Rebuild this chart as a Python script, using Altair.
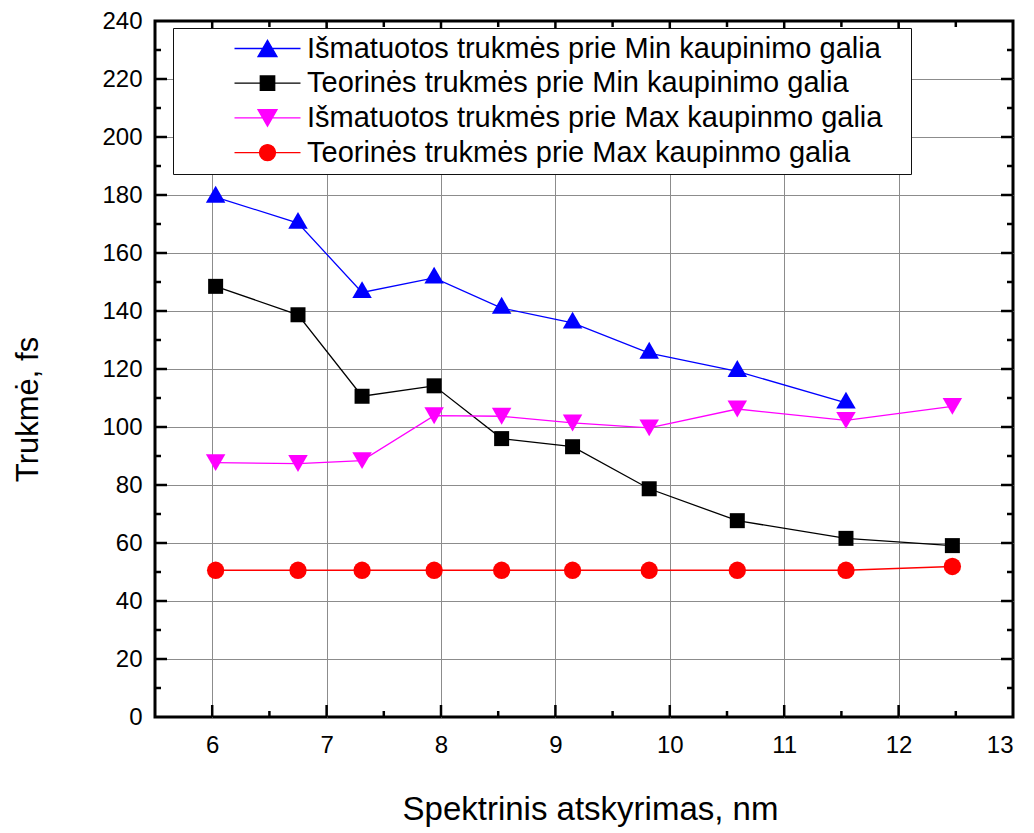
import altair as alt
import pandas as pd

# Spectral resolution (nm) at which the pulse durations were evaluated
spectral_width = [6.03, 6.75, 7.31, 7.94, 8.53, 9.15, 9.82, 10.59, 11.54, 12.47]

# Pulse durations, fs
measured_min = [179.3, 170.3, 146.4, 151.4, 141.0, 135.9, 125.5, 119.2, 108.3]
theory_min = [148.5, 138.7, 110.6, 114.2, 96.0, 93.2, 78.7, 67.7, 61.6, 59.1]
measured_max = [87.7, 87.4, 88.4, 103.9, 103.7, 101.4, 99.7, 106.2, 102.3, 107.1]
theory_max = [50.6, 50.6, 50.6, 50.6, 50.6, 50.6, 50.6, 50.6, 50.6, 51.9]

series_names = [
    "Išmatuotos trukmės prie Min kaupinimo galia",
    "Teorinės trukmės prie Min kaupinimo galia",
    "Išmatuotos trukmės prie Max kaupinmo galia",
    "Teorinės trukmės prie Max kaupinmo galia",
]
series_values = [measured_min, theory_min, measured_max, theory_max]
series_colors = ["#0000ff", "#000000", "#ff00ff", "#ff0000"]
# Equilateral triangles (up / down), square and circle markers
marker_shapes = ["triangle", "square", "M0,0.866L1,-0.866L-1,-0.866Z", "circle"]
marker_sizes = [380, 225, 380, 300]

# Legend keys: a short line with the marker in its middle (unit coordinates)
key_line = "M-3.3,0L3.3,0"
legend_keys = [
    key_line + "M0,-0.82L0.95,0.82L-0.95,0.82Z",
    key_line + "M-0.72,-0.72L0.72,-0.72L0.72,0.72L-0.72,0.72Z",
    key_line + "M0,0.82L0.95,-0.82L-0.95,-0.82Z",
    key_line + "M0.8,0A0.8,0.8,0,1,1,-0.8,0A0.8,0.8,0,1,1,0.8,0Z",
]

x_ticks = [6, 7, 8, 9, 10, 11, 12, 13]
x_minor = [6.5, 7.5, 8.5, 9.5, 10.5, 11.5, 12.5]
x_major_inner = [6, 7, 8, 9, 10, 11, 12]
y_ticks = list(range(0, 241, 20))
y_major_inner = list(range(20, 221, 20))
y_minor = list(range(10, 231, 20))

rows = []
for name, vals in zip(series_names, series_values):
    for xv, yv in zip(spectral_width, vals):
        rows.append({"x": xv, "y": yv, "series": name})
df = pd.DataFrame(rows)

W, H = 858, 696
FONT = "Liberation Sans"

xscale = alt.Scale(domain=[5.5, 13], nice=False, zero=False)
yscale = alt.Scale(domain=[0, 240], nice=False, zero=False)

xaxis = alt.Axis(
    values=x_ticks, format="d", grid=True, gridColor="#8c8c8c", gridWidth=1,
    gridOpacity=alt.condition("datum.value >= 13", alt.value(0), alt.value(1)),
    ticks=False, tickSize=0, domain=False,
    labelFont=FONT, labelFontSize=24, labelColor="black", labelPadding=35,
    labelBaseline="alphabetic",
    title="Spektrinis atskyrimas, nm", titleFont=FONT, titleFontSize=33,
    titleFontWeight="normal", titleColor="black", titleX=435, titleY=102,
    titleAlign="center", titleBaseline="alphabetic",
)
yaxis = alt.Axis(
    values=y_ticks, grid=True, gridColor="#8c8c8c", gridWidth=1,
    gridOpacity=alt.condition("datum.value <= 0 || datum.value >= 240", alt.value(0), alt.value(1)),
    ticks=False, tickSize=0, domain=False,
    labelFont=FONT, labelFontSize=24, labelColor="black", labelPadding=13,
    labelBaseline="middle", labelAlign="right",
    title="Trukmė, fs", titleFont=FONT, titleFontSize=31, titleFontWeight="normal",
    titleColor="black", titleAngle=270, titleX=-118, titleY=388,
    titleAlign="center", titleBaseline="alphabetic",
)

X = alt.X("x:Q", scale=xscale, axis=xaxis)
Y = alt.Y("y:Q", scale=yscale, axis=yaxis)
color_scale = alt.Scale(domain=series_names, range=series_colors)

leg = alt.Legend(
    title=None, orient="none", legendX=18, legendY=7,
    fillColor="white", strokeColor="#111111", padding=6, rowPadding=4.7,
    labelFont=FONT, labelFontSize=29, labelColor="black", labelLimit=900,
    labelExpr="datum.label + '\u2002\u00a0\u200b'",
    symbolSize=400, symbolStrokeWidth=1.3, symbolOffset=74, labelOffset=25,
    symbolOpacity=1,
)

base = alt.Chart(df)

lines = base.mark_line(strokeWidth=1.3).encode(
    x=X, y=Y, color=alt.Color("series:N", scale=color_scale, legend=None)
)

# One marker layer per series, each with its own shape and size
marker_layers = [
    base.transform_filter(alt.datum.series == name)
    .mark_point(filled=True, opacity=1, shape=shape, size=size, color=col)
    .encode(x=X, y=Y)
    for name, shape, size, col in zip(series_names, marker_shapes, marker_sizes, series_colors)
]

# Invisible layer that only carries the legend with line+marker keys
key_layer = base.mark_point(filled=True, opacity=0, size=400, strokeWidth=1.3).encode(
    x=X, y=Y,
    color=alt.Color("series:N", scale=color_scale, legend=leg),
    stroke=alt.Stroke("series:N", scale=color_scale, legend=leg),
    shape=alt.Shape("series:N", scale=alt.Scale(domain=series_names, range=legend_keys), legend=leg),
)


def x_tick_layer(vals, y_from, y_to):
    d = pd.DataFrame({"x": vals})
    return alt.Chart(d).mark_rule(color="black", strokeWidth=2.5).encode(
        x=X, y=alt.value(y_from), y2=alt.value(y_to)
    )


def y_tick_layer(vals, x_from, x_to):
    d = pd.DataFrame({"y": vals})
    return alt.Chart(d).mark_rule(color="black", strokeWidth=2.5).encode(
        y=Y, x=alt.value(x_from), x2=alt.value(x_to)
    )


# Inward-pointing ticks on all four sides of the frame
ticks = [
    x_tick_layer(x_major_inner, H, H - 12),
    x_tick_layer(x_minor, H, H - 6),
    x_tick_layer(x_major_inner, 0, 12),
    x_tick_layer(x_minor, 0, 6),
    y_tick_layer(y_major_inner, 0, 12),
    y_tick_layer(y_minor, 0, 6),
    y_tick_layer(y_major_inner, W, W - 12),
    y_tick_layer(y_minor, W, W - 6),
]

chart = (
    alt.layer(lines, *marker_layers, key_layer, *ticks)
    .resolve_scale(color="independent", stroke="independent", shape="independent")
    .properties(
        width=W, height=H,
        padding={"left": 155, "top": 21, "right": 21, "bottom": 116},
        autosize=alt.AutoSizeParams(type="none"),
        background="white",
    )
    .configure_view(stroke="black", strokeWidth=3)
)

chart.save("out.html", embed_options={"renderer": "svg", "actions": False})
